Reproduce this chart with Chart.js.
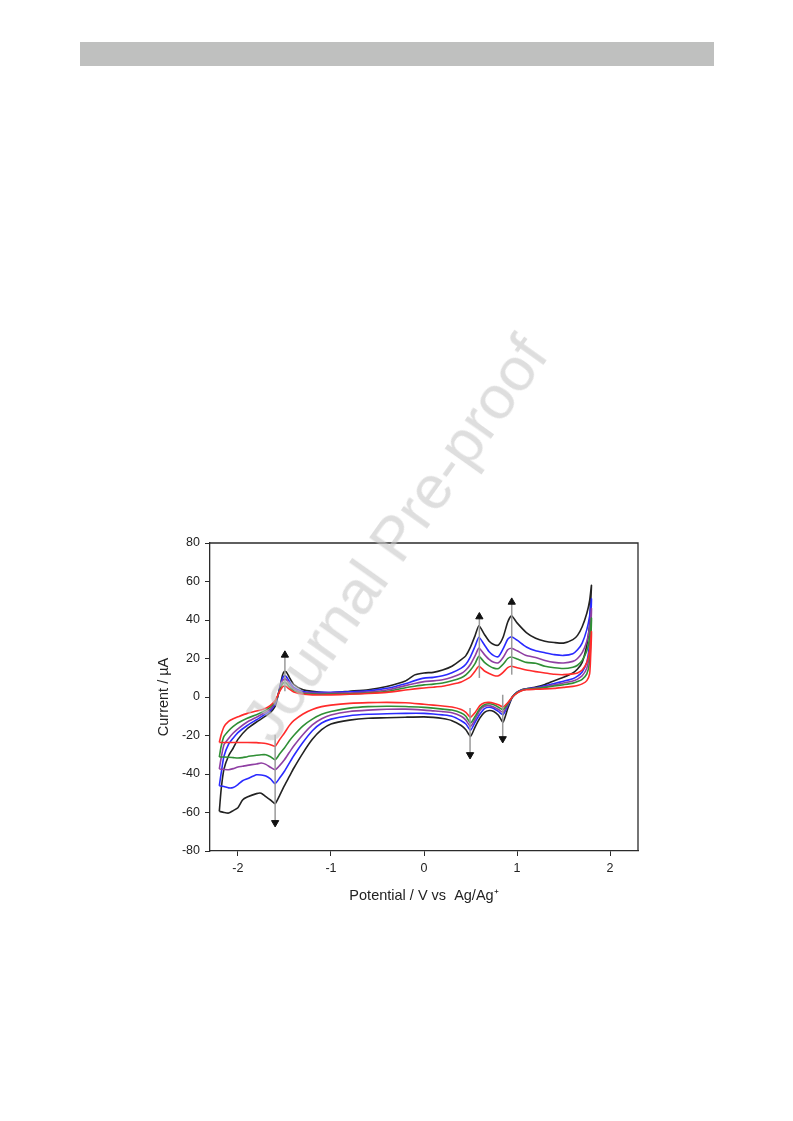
<!DOCTYPE html>
<html>
<head>
<meta charset="utf-8">
<script src="https://cdn.jsdelivr.net/npm/chart.js@4.4.0/dist/chart.umd.min.js"></script>
<style>
  html, body { margin: 0; padding: 0; background: #fff; }
  body { width: 793px; height: 1121px; position: relative; overflow: hidden; font-family: 'Liberation Sans', Arial, sans-serif; }
  .header-bar { position: absolute; left: 80px; top: 42px; width: 634px; height: 24px; background: #bfc0bf; }
  .chart-box { position: absolute; left: 150px; top: 530px; width: 500px; height: 390px; }
  .watermark {
    position: absolute; left: 394px; top: 538px;
    transform: translate(-50%, -50%) rotate(-54.6deg);
    font-size: 62px; color: rgba(200, 200, 200, 0.6);
    white-space: nowrap; pointer-events: none;
  }
</style>
</head>
<body>
<div class="header-bar"></div>
<div class="chart-box"><canvas id="cv" width="500" height="390"></canvas></div>
<div class="watermark">Journal Pre-proof</div>
<script>
  // axis ticks
  const X_TICKS = [-2, -1, 0, 1, 2];
  const Y_TICKS = [-80, -60, -40, -20, 0, 20, 40, 60, 80];

  // potential grid (V vs Ag/Ag+), anodic sweep -2.2 -> 1.8, cathodic sweep back
  const ANODIC_E = [-2.2, -2.18, -2.15, -2.1, -2.05, -2.0, -1.9, -1.8, -1.7, -1.65,
    -1.6, -1.58, -1.55, -1.52, -1.5, -1.48, -1.45, -1.4, -1.3, -1.2,
    -1.0, -0.8, -0.6, -0.4, -0.2, -0.1, 0, 0.1, 0.2, 0.3,
    0.4, 0.45, 0.5, 0.55, 0.59, 0.65, 0.7, 0.75, 0.8, 0.85,
    0.9, 0.94, 1.0, 1.1, 1.2, 1.3, 1.4, 1.5, 1.6, 1.65,
    1.7, 1.75, 1.78, 1.8];
  const CATHODIC_E = [1.79, 1.78, 1.75, 1.7, 1.65, 1.6, 1.5, 1.4, 1.3, 1.2,
    1.1, 1.05, 1.0, 0.95, 0.9, 0.85, 0.8, 0.75, 0.7, 0.65,
    0.6, 0.55, 0.5, 0.45, 0.4, 0.3, 0.2, 0.1, 0, -0.2,
    -0.4, -0.6, -0.8, -1.0, -1.1, -1.2, -1.3, -1.4, -1.45, -1.5,
    -1.55, -1.6, -1.65, -1.7, -1.75, -1.8, -1.9, -1.95, -2.0, -2.05,
    -2.1, -2.15, -2.2];

  // current (uA) per scan
  const BLACK_ANODIC = [-59.4, -48, -37.5, -30.5, -26.5, -22, -16.5, -13, -9.8, -8,
    -4.9, -1.5, 5, 11.5, 13.3, 13, 10.5, 6.5, 3.8, 3,
    2.2, 3, 3.8, 5.5, 8.3, 11.5, 12.5, 12.8, 14, 16,
    19.4, 21.5, 26, 32, 37, 32.5, 29, 27.3, 27, 31,
    39, 42.2, 38.5, 33.5, 30.5, 29, 28.3, 28, 29.8, 32,
    36.5, 43.5, 50, 58];
  const BLACK_CATHODIC = [48, 38, 27, 18, 14.5, 12.5, 10.3, 8.5, 6.5, 5.2,
    4.3, 3.8, 2.5, 0, -6, -13, -9.5, -7.5, -7, -8,
    -11, -15.5, -20.5, -17, -14.8, -12.3, -11.2, -10.6, -10.3, -10.5,
    -10.8, -11, -12, -14, -17, -22, -29, -37, -41.5, -46,
    -51, -55.4, -53.5, -51.8, -50, -50.2, -52, -53.5, -57.5, -59,
    -60.3, -60, -59.4];

  const BLUE_ANODIC = [-46.1, -39.5, -30.8, -24.5, -21.3, -18.5, -14.8, -11.8, -8.8, -7,
    -3.5, -1, 4.5, 9.8, 11, 10.6, 8.3, 5, 2.9, 2.5,
    2.5, 2.7, 3.2, 4.5, 6.9, 8.5, 9.8, 10.2, 11, 12.6,
    15, 17, 21, 26.5, 31, 27, 23.5, 21.5, 21, 25,
    30, 31.3, 29.5, 26, 24, 23, 22, 21.6, 22.5, 24.5,
    28, 35, 42, 51];
  const BLUE_CATHODIC = [38, 28, 18, 13, 10.8, 9.5, 8.2, 7, 5.8, 4.8,
    4.2, 3.6, 2.4, 0, -4.5, -9.2, -7.5, -6, -5.3, -6,
    -9, -13, -17.3, -14, -12.3, -10, -9.3, -8.8, -8.5, -8.5,
    -8.7, -9, -9.7, -11.5, -13.5, -17.5, -23.5, -30.5, -34.5, -38.6,
    -42, -45, -42.5, -41, -40.5, -40.4, -42.5, -43.5, -45.5, -47,
    -47.2, -46.5, -46.1];

  const PURPLE_ANODIC = [-37.4, -31.7, -24.8, -21.5, -18.7, -16.5, -13, -10.5, -7.8, -6.2,
    -2.8, -0.8, 4, 8.4, 9.4, 9, 7, 4.2, 2.3, 2,
    2, 2.1, 2.6, 3.6, 5.9, 7, 8, 8.4, 9, 10.3,
    12.2, 14, 17, 21.5, 25.4, 22, 19.5, 18, 17.8, 20.5,
    24.5, 25.3, 24, 21.5, 20.5, 19, 18, 17.7, 18.5, 20,
    23, 29, 36, 46];
  const PURPLE_CATHODIC = [32, 23, 15, 11, 9.3, 8.3, 7.3, 6.3, 5.3, 4.6,
    4.1, 3.5, 2.3, 0, -4, -8, -6.5, -5.2, -4.5, -4.8,
    -7, -11.5, -15.3, -12, -10, -8.2, -7.6, -7.2, -6.8, -6.3,
    -6.4, -6.8, -7.5, -9.3, -11.3, -14.5, -19.5, -25.5, -29, -32.6,
    -35.5, -37.8, -36.5, -35, -34.3, -34.8, -35.5, -36, -36.4, -37.2,
    -37.8, -37.6, -37.4];

  const GREEN_ANODIC = [-31.2, -25.6, -20.5, -17.5, -15.3, -13.5, -11, -9.2, -6.8, -5.2,
    -2.4, -0.5, 3.5, 6.8, 7.6, 7.2, 5.5, 3.3, 1.8, 1.5,
    1.5, 1.7, 2.1, 2.9, 4.8, 5.6, 6.3, 6.7, 7.3, 8.4,
    10, 11.5, 14, 17.5, 21.1, 18, 16.2, 15, 14.8, 17,
    20, 20.8, 19.8, 18, 17.5, 16, 15.2, 14.8, 15.5, 16.5,
    19, 24, 31, 41];
  const GREEN_CATHODIC = [27, 18, 12, 9.2, 8, 7.2, 6.4, 5.7, 5, 4.4,
    4, 3.4, 2.2, 0, -3.5, -6.6, -5.3, -4, -3.5, -4,
    -6, -10, -13.5, -10, -8.3, -6.8, -6.3, -5.8, -5.4, -4.9,
    -4.8, -5, -5.8, -7.5, -9, -11.5, -15, -20, -23, -26.5,
    -29.5, -32.6, -31, -30, -30, -30.3, -31, -31.5, -31.7, -31.5,
    -31.3, -31.2, -31.2];

  const RED_ANODIC = [-23.6, -19.6, -15.5, -12.7, -11.3, -10.3, -8.5, -7.3, -5.8, -4.3,
    -1.8, 0, 3, 5.3, 5.8, 5.5, 4.2, 2.6, 1.4, 1.1,
    1.1, 1.4, 1.8, 2.4, 3.6, 4.2, 4.7, 5.1, 5.6, 6.6,
    7.8, 9, 10.5, 13.5, 16, 13.5, 12.2, 11.2, 11, 12.8,
    15.3, 16, 15.2, 14, 13.2, 12.5, 11.8, 11.6, 12, 12.5,
    14, 18, 24, 34];
  const RED_CATHODIC = [20, 12, 8.5, 6.8, 6, 5.5, 5, 4.5, 4.2, 4,
    3.8, 3.3, 2, 0, -3, -5.2, -4, -3.2, -2.8, -3,
    -4.5, -8, -10.5, -8, -6.5, -5.2, -4.7, -4.2, -3.8, -3,
    -2.8, -2.9, -3.3, -4.2, -5, -6.5, -8.8, -12.3, -15, -18.7,
    -22, -25.6, -24.8, -24.2, -23.9, -23.7, -23.6, -23.6, -23.6, -23.6,
    -23.6, -23.6, -23.6];

  // trend arrows: potential, tail current, head current
  const ARROW_E = [-1.6, -1.495, 0.595, 0.943, 0.495, 0.846];
  const ARROW_TAIL = [-19.6, 3, 9.9, 11.6, -5.7, 1.2];
  const ARROW_HEAD = [-65.3, 21.8, 41.7, 49.3, -30, -21.7];

  const FONT = "'Liberation Sans', Arial, sans-serif";
  const AXIS_COLOR = '#2b2b2b';

  function loop(anodic, cathodic) {
    const up = ANODIC_E.map((e, i) => ({ x: e, y: anodic[i] }));
    const down = CATHODIC_E.map((e, i) => ({ x: e, y: cathodic[i] }));
    return up.concat(down);
  }

  function curve(data, color, order) {
    return {
      data,
      showLine: true,
      borderColor: color,
      borderWidth: 1.6,
      pointRadius: 0,
      tension: 0.2,
      fill: false,
      order,
    };
  }

  const datasets = [
    curve(loop(RED_ANODIC, RED_CATHODIC), '#ff2b2b', 1),
    curve(loop(GREEN_ANODIC, GREEN_CATHODIC), '#2f8f35', 2),
    curve(loop(PURPLE_ANODIC, PURPLE_CATHODIC), '#8f3fa3', 3),
    curve(loop(BLUE_ANODIC, BLUE_CATHODIC), '#2a2aff', 4),
    curve(loop(BLACK_ANODIC, BLACK_CATHODIC), '#222222', 5),
  ];

  ARROW_E.forEach((e, i) => {
    datasets.push({
      data: [{ x: e, y: ARROW_TAIL[i] }, { x: e, y: ARROW_HEAD[i] }],
      showLine: true,
      borderColor: '#9a9a9a',
      borderWidth: 1.5,
      pointRadius: 0,
      order: 0,
    });
  });
  datasets.push({
    data: ARROW_E.map((e, i) => ({ x: e, y: ARROW_HEAD[i] })),
    showLine: false,
    pointStyle: 'triangle',
    pointRadius: 4.2,
    pointBackgroundColor: '#111',
    pointBorderColor: '#111',
    pointBorderWidth: 1,
    pointRotation: (ctx) => (ARROW_HEAD[ctx.dataIndex] < ARROW_TAIL[ctx.dataIndex] ? 180 : 0),
    order: -1,
  });

  const framePlugin = {
    id: 'frame',
    afterDraw(chart) {
      const { ctx, chartArea: a } = chart;
      ctx.save();
      ctx.strokeStyle = AXIS_COLOR;
      ctx.lineWidth = 1.3;
      ctx.beginPath();
      ctx.moveTo(a.left, a.top);
      ctx.lineTo(a.right, a.top);
      ctx.lineTo(a.right, a.bottom);
      ctx.stroke();
      ctx.restore();
    },
  };

  new Chart(document.getElementById('cv'), {
    type: 'scatter',
    data: { datasets },
    plugins: [framePlugin],
    options: {
      responsive: false,
      animation: false,
      layout: { padding: { top: 13, right: 12, left: 0, bottom: 0 } },
      plugins: { legend: { display: false }, tooltip: { enabled: false } },
      scales: {
        x: {
          type: 'linear',
          min: -2.3,
          max: 2.3,
          afterBuildTicks: (scale) => { scale.ticks = X_TICKS.map((v) => ({ value: v })); },
          afterFit: (scale) => { scale.height = 69; },
          grid: { drawOnChartArea: false, drawTicks: true, tickLength: 5, color: AXIS_COLOR },
          border: { display: true, color: AXIS_COLOR, width: 1.3 },
          ticks: { padding: 5, color: '#222', font: { family: FONT, size: 12.5 } },
          title: {
            display: true,
            text: 'Potential / V vs  Ag/Ag\u207A',
            color: '#222',
            font: { family: FONT, size: 14.5 },
            padding: { top: 4, bottom: 15 },
          },
        },
        y: {
          type: 'linear',
          min: -80,
          max: 80,
          afterBuildTicks: (scale) => { scale.ticks = Y_TICKS.map((v) => ({ value: v })); },
          afterFit: (scale) => { scale.width = 60; },
          grid: { drawOnChartArea: false, drawTicks: true, tickLength: 5, color: AXIS_COLOR },
          border: { display: true, color: AXIS_COLOR, width: 1.3 },
          ticks: { padding: 5, color: '#222', font: { family: FONT, size: 12.5 } },
          title: {
            display: true,
            text: 'Current / \u00B5A',
            color: '#222',
            font: { family: FONT, size: 14.5 },
            padding: { top: 5, bottom: 0 },
          },
        },
      },
    },
  });
</script>
</body>
</html>
